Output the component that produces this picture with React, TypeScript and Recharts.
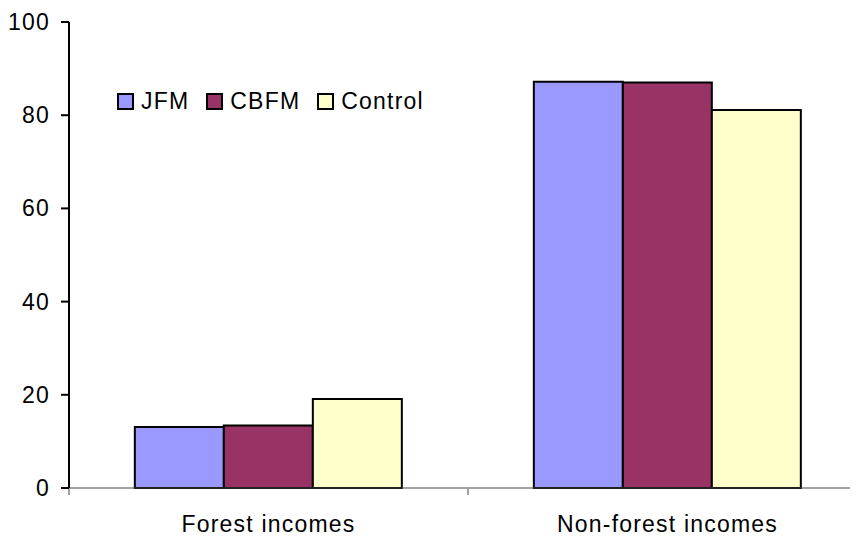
import { BarChart, Bar, XAxis, YAxis } from "recharts";

const categories = ["Forest incomes", "Non-forest incomes"];
const seriesNames = ["JFM", "CBFM", "Control"];
const seriesColors = ["#9999FF", "#993366", "#FFFFCC"];
const jfm = [13.1, 87.2];
const cbfm = [13.4, 87.0];
const control = [19.1, 81.1];
const yTicks = [0, 20, 40, 60, 80, 100];
const boundaryTicks = [0, 1, 2];

const data = categories.map((name, i) => ({
  name,
  pos: i + 0.5,
  JFM: jfm[i],
  CBFM: cbfm[i],
  Control: control[i],
}));

const font = "'Liberation Sans', Arial, sans-serif";

function YTick({ x, y, payload }: any) {
  return (
    <text x={x} y={y} dy={8} textAnchor="end" fontSize={23} letterSpacing={1.2} fontFamily={font} fill="#000">
      {payload.value}
    </text>
  );
}

function XTick({ x, y, payload }: any) {
  return (
    <text x={x} y={y} dy={15} textAnchor="middle" fontSize={23} letterSpacing={1.2} fontFamily={font} fill="#000">
      {payload.value}
    </text>
  );
}

// tick marks only at the category boundaries
const NoLabel = () => <g />;

export default function App() {
  return (
    <div style={{ margin: -8, width: 858, height: 541, overflow: "hidden", background: "#fff", position: "relative" }}>
      <BarChart
        width={880}
        height={541}
        data={data}
        margin={{ top: 22, right: 13, left: 0, bottom: 0 }}
        barCategoryGap="16.5%"
        barGap={0}
      >
        <XAxis
          dataKey="name"
          height={1}
          tickLine={false}
          axisLine={{ stroke: "#444", strokeWidth: 1 }}
          tick={<XTick />}
          tickMargin={23}
        />
        <XAxis
          xAxisId="edge"
          dataKey="pos"
          type="number"
          domain={[0, 2]}
          ticks={boundaryTicks}
          height={52}
          axisLine={false}
          tick={<NoLabel />}
          tickLine={{ stroke: "#444" }}
          tickSize={6}
        />
        <YAxis
          width={69}
          domain={[0, 100]}
          ticks={yTicks}
          interval={0}
          axisLine={{ stroke: "#000", strokeWidth: 2 }}
          tickLine={{ stroke: "#000", strokeWidth: 2 }}
          tickSize={8}
          tickMargin={11}
          tick={<YTick />}
        />
        <Bar dataKey="JFM" fill={seriesColors[0]} stroke="#000" strokeWidth={2} isAnimationActive={false} />
        <Bar dataKey="CBFM" fill={seriesColors[1]} stroke="#000" strokeWidth={2} isAnimationActive={false} />
        <Bar dataKey="Control" fill={seriesColors[2]} stroke="#000" strokeWidth={2} isAnimationActive={false} />
      </BarChart>
      <div
        style={{
          position: "absolute",
          left: 117,
          top: 87,
          display: "flex",
          alignItems: "center",
          fontFamily: font,
          fontSize: 23,
          letterSpacing: 1.2,
          color: "#000",
          lineHeight: "28px",
        }}
      >
        {seriesNames.map((n, i) => (
          <div key={n} style={{ display: "flex", alignItems: "center", marginRight: 17 }}>
            <span
              style={{
                display: "inline-block",
                width: 13,
                height: 13,
                background: seriesColors[i],
                border: "2px solid #000",
                marginRight: 7,
              }}
            />
            <span>{n}</span>
          </div>
        ))}
      </div>
    </div>
  );
}
